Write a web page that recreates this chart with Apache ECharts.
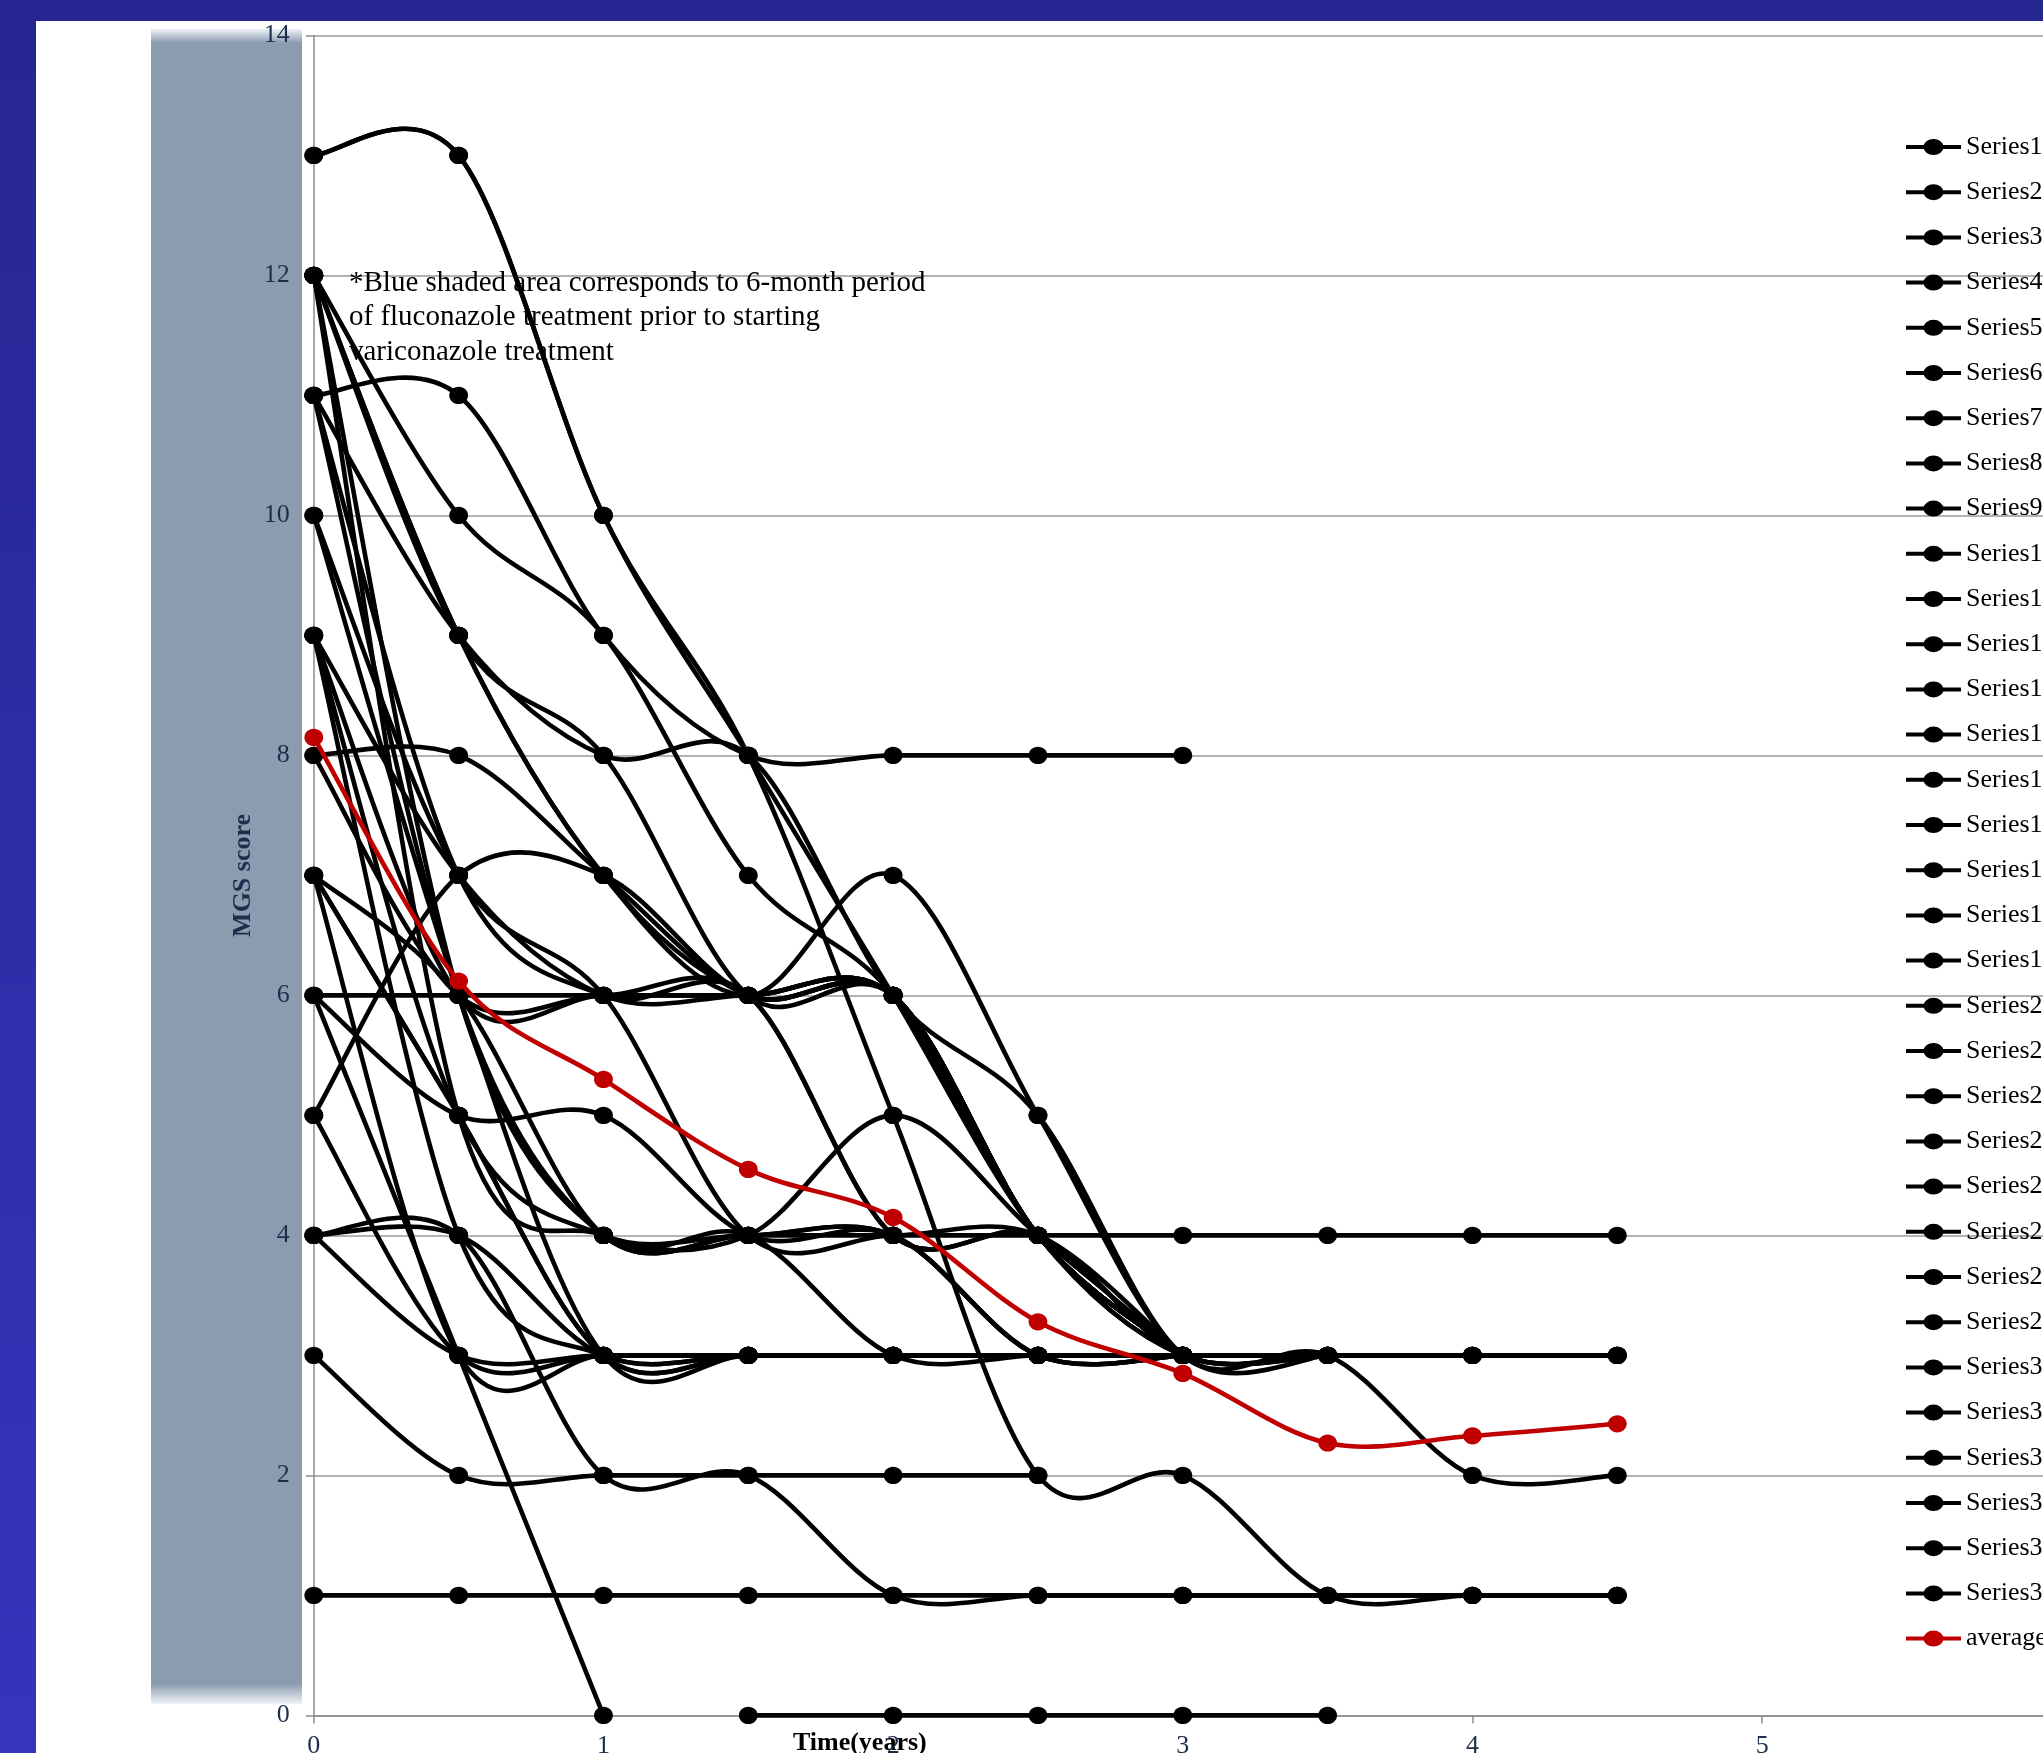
<!DOCTYPE html>
<html>
<head>
<meta charset="utf-8">
<script src="https://cdn.jsdelivr.net/npm/echarts@6/dist/echarts.min.js"></script>
<style>
  html, body { margin: 0; padding: 0; background: #ffffff; }
  #wrap { position: relative; width: 2043px; height: 1753px; overflow: hidden; background: #ffffff; }
  #topband { position: absolute; left: 0; top: 0; width: 2043px; height: 21px; background: #262692; }
  #leftband { position: absolute; left: 0; top: 0; width: 36px; height: 1753px; background: linear-gradient(to bottom, #262692, #3535bd); }
  #shade { position: absolute; left: 151px; top: 29px; width: 151px; height: 1675px;
    background: linear-gradient(to bottom, #eef2f6 0px, #8b9cb1 14px, #8b9cb1 1655px, #f0f3f6 1675px); }
  #c { position: absolute; left: 0; top: 0; width: 2043px; height: 1753px; }
</style>
</head>
<body>
<div id="wrap">
  <div id="topband"></div>
  <div id="leftband"></div>
  <div id="shade"></div>
  <div id="c"></div>
</div>
<script>
// ---- data (time in years) ----
const times = [0, 0.5, 1, 1.5, 2, 2.5, 3, 3.5, 4, 4.5];
const xTickLabels = ['0', '1', '2', '3', '4', '5'];
const yTickLabels = ['0', '2', '4', '6', '8', '10', '12', '14'];

const s01 = [13, 13, 10, 8, 5, 2, 2, 1, 1, 1];
const s02 = [13, 13, 10, 8, 6, 4, 3, 3, 3, 3];
const s03 = [12, 10, 9, 7, 6, 4, 3, null, null, null];
const s04 = [12, 9, 7, 6, 7, 5, 3, 3, 2, 2];
const s05 = [12, 9, 7, 6, 6, 4, 3, null, null, null];
const s06 = [12, 6, 4, 4, 4, 4, 4, 4, 4, 4];
const s07 = [12, 5, 4, 4, 5, 4, 3, null, null, null];
const s08 = [11, 11, 9, 8, 8, 8, 8, null, null, null];
const s09 = [11, 9, 8, 8, 6, 5, 3, 3, null, null];
const s10 = [12, 9, 8, 6, 6, 4, 3, null, null, null];
const s11 = [11, 7, 6, 6, 6, 4, 3, 3, 3, 3];
const s12 = [11, 6, 4, 4, 4, 3, 3, null, null, null];
const s13 = [9, 4, 3, 3, 3, 3, 3, null, null, null];
const s14 = [10, 7, 6, 4, 4, 4, 3, 3, null, null];
const s15 = [10, 6, 3, 3, 3, 3, 3, null, null, null];
const s16 = [9, 7, 6, 6, 4, 4, 3, null, null, null];
const s17 = [9, 6, 6, 6, 6, 4, 3, null, null, null];
const s18 = [9, 5, 4, 4, 4, 3, 3, null, null, null];
const s19 = [8, 8, 7, 6, 6, 4, 3, null, null, null];
const s20 = [8, 6, 6, 6, 4, 4, 3, 3, null, null];
const s21 = [7, 6, 4, 4, 3, 3, 3, null, null, null];
const s22 = [7, 5, 3, 3, 3, 3, 3, 3, 3, 3];
const s23 = [7, 5, 3, 3, 3, 3, 3, 3, 3, 3];
const s24 = [7, 3, 3, 3, 3, 3, 3, 3, null, null];
const s25 = [6, 6, 6, 6, 6, 4, 3, null, null, null];
const s26 = [6, 5, 5, 4, 4, 3, 3, null, null, null];
const s27 = [6, 3, 0, null, null, null, null, null, null, null];
const s28 = [5, 7, 7, 6, 6, 4, 3, null, null, null];
const s29 = [5, 3, 3, 3, 3, 3, 3, null, null, null];
const s30 = [4, 4, 3, 3, 3, 3, 3, null, null, null];
const s31 = [4, 4, 2, 2, 1, 1, 1, 1, 1, 1];
const s32 = [4, 3, 3, 3, 3, 3, 3, 3, 3, 3];
const s33 = [3, 2, 2, 2, 2, 2, null, null, null, null];
const s34 = [1, 1, 1, 1, 1, 1, 1, 1, 1, 1];
const s35 = [null, null, null, 0, 0, 0, 0, 0, null, null];

const averageValues = [8.15, 6.12, 5.3, 4.55, 4.15, 3.28, 2.85, 2.27, 2.33, 2.43];

const blackValues = [s01, s02, s03, s04, s05, s06, s07, s08, s09, s10, s11, s12, s13, s14, s15,
  s16, s17, s18, s19, s20, s21, s22, s23, s24, s25, s26, s27, s28, s29, s30, s31, s32, s33, s34, s35];
const blackNames = blackValues.map((_, i) => 'Series' + (i + 1));
const hiddenLegend = ['Series28', 'Series29'];
const legendNames = blackNames.filter(n => hiddenLegend.indexOf(n) < 0).concat(['average']);

const noteLines = [
  '*Blue shaded area corresponds to 6-month period',
  'of fluconazole treatment prior to starting',
  'variconazole treatment'
];

function toData(vals) {
  return times.map((t, i) => [t, vals[i]]).filter(p => p[1] !== null);
}

const serif = '"Liberation Serif", "Times New Roman", serif';
const navy = '#1f2d4d';
const LINE_W = 4.6;

// Excel-style smoothed line (Catmull-Rom segments) drawn through the chart's own scales
function makeSeries(name, vals, color, z) {
  const pts = toData(vals);
  return {
    name: name,
    type: 'custom',
    data: pts,
    z: z,
    clip: false,
    silent: true,
    encode: { x: 0, y: 1 },
    itemStyle: { color: color },
    renderItem: function (params, api) {
      const i = params.dataIndex;
      const n = pts.length;
      const P = k => api.coord(pts[Math.max(0, Math.min(n - 1, k))]);
      const p1 = P(i);
      const children = [];
      if (i < n - 1) {
        const p0 = P(i - 1), p2 = P(i + 1), p3 = P(i + 2);
        children.push({
          type: 'bezierCurve',
          shape: {
            x1: p1[0], y1: p1[1], x2: p2[0], y2: p2[1],
            cpx1: p1[0] + (p2[0] - p0[0]) / 6, cpy1: p1[1] + (p2[1] - p0[1]) / 6,
            cpx2: p2[0] - (p3[0] - p1[0]) / 6, cpy2: p2[1] - (p3[1] - p1[1]) / 6
          },
          style: { stroke: color, lineWidth: LINE_W, fill: 'none', lineCap: 'round' }
        });
      }
      children.push({
        type: 'ellipse',
        shape: { cx: p1[0], cy: p1[1], rx: 9.4, ry: 8.6 },
        style: { fill: color }
      });
      return { type: 'group', children: children };
    }
  };
}

const series = blackValues.map((vals, i) => makeSeries(blackNames[i], vals, '#000000', 2));
series.push(makeSeries('average', averageValues, '#c00000', 3));

const legendIcon = 'path://M0,6H55V10H0Z M37.5,8A10,8,0,1,1,17.5,8A10,8,0,1,1,37.5,8Z';

const chart = echarts.init(document.getElementById('c'), null, { renderer: 'canvas' });
chart.setOption({
  animation: false,
  backgroundColor: 'transparent',
  grid: { left: 313.8, top: 35.4, right: -8.8, bottom: 37.6, containLabel: false, outerBoundsMode: 'none' },
  xAxis: {
    type: 'value', min: 0, max: 6, interval: 1,
    name: 'Time(years)', nameLocation: 'middle', nameGap: 15, nameMoveOverlap: false,
    nameTextStyle: { fontFamily: serif, fontSize: 26, fontWeight: 'bold', color: '#000', padding: [0, 646, 0, 0], verticalAlign: 'top' },
    axisLine: { show: true, lineStyle: { color: '#8c8c8c', width: 1.5 } },
    axisTick: { show: true, length: 8, lineStyle: { color: '#8c8c8c', width: 1.5 } },
    axisLabel: {
      fontFamily: serif, fontSize: 26, color: navy, margin: 18,
      formatter: v => (xTickLabels.indexOf(String(v)) >= 0 ? String(v) : '')
    },
    splitLine: { show: false }
  },
  yAxis: {
    type: 'value', min: 0, max: 14, interval: 2,
    name: 'MGS score', nameLocation: 'middle', nameGap: 58, nameRotate: 90, nameMoveOverlap: false,
    nameTextStyle: { fontFamily: serif, fontSize: 26, fontWeight: 'bold', color: navy },
    axisLine: { show: true, lineStyle: { color: '#8c8c8c', width: 1.5 } },
    axisTick: { show: true, length: 8, lineStyle: { color: '#8c8c8c', width: 1.5 } },
    axisLabel: {
      fontFamily: serif, fontSize: 26, color: navy, margin: 24,
      formatter: v => (yTickLabels.indexOf(String(v)) >= 0 ? String(v) : '')
    },
    splitLine: { show: true, lineStyle: { color: '#9a9a9a', width: 1.5 } }
  },
  legend: {
    orient: 'vertical',
    left: 1906, top: 134,
    padding: 0,
    itemWidth: 55, itemHeight: 16, itemGap: 19.2,
    data: legendNames.map(n => ({ name: n, icon: legendIcon })),
    selectedMode: false,
    textStyle: { fontFamily: serif, fontSize: 26, color: '#000', lineHeight: 26 }
  },
  graphic: {
    elements: [{
      type: 'text', left: 349, top: 266, silent: true, z: 10,
      style: { text: noteLines.join('\n'), font: '29px ' + serif, fill: '#000', lineHeight: 34.5 }
    }]
  },
  series: series
});
</script>
</body>
</html>
